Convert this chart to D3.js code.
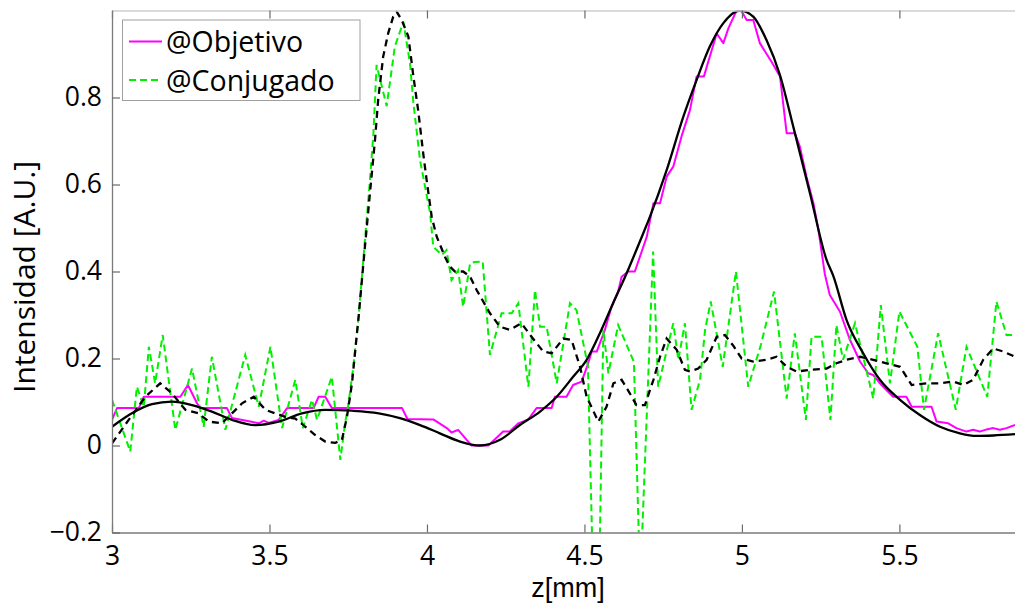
<!DOCTYPE html>
<html>
<head>
<meta charset="utf-8">
<script src="https://cdn.jsdelivr.net/npm/d3@7"></script>
<style>
  html, body { margin: 0; padding: 0; background: #ffffff; }
  svg { display: block; font-family: "Open Sans", "Noto Sans", sans-serif; }
</style>
</head>
<body>
<svg id="chart" width="1015" height="603"></svg>
<script>
// ---- Axis ticks ----
const zTicks = [3, 3.5, 4, 4.5, 5, 5.5];
const intensityTicks = [-0.2, 0, 0.2, 0.4, 0.6, 0.8];

// ---- @Objetivo: measured intensity (stepped) ----
const objetivoZ = [3.000, 3.016, 3.085, 3.101, 3.217, 3.241, 3.270, 3.280, 3.365, 3.381, 3.439, 3.466, 3.482, 3.497, 3.529, 3.556, 3.640, 3.656, 3.677, 3.698, 3.921, 3.938, 4.020, 4.063, 4.078, 4.099, 4.126, 4.142, 4.195, 4.242, 4.263, 4.290, 4.322, 4.348, 4.396, 4.406, 4.443, 4.464, 4.491, 4.512, 4.523, 4.539, 4.565, 4.586, 4.607, 4.618, 4.639, 4.660, 4.698, 4.719, 4.740, 4.761, 4.782, 4.808, 4.835, 4.856, 4.879, 4.898, 4.920, 4.941, 4.957, 4.983, 4.999, 5.015, 5.036, 5.057, 5.094, 5.121, 5.142, 5.168, 5.184, 5.205, 5.227, 5.243, 5.263, 5.279, 5.311, 5.343, 5.375, 5.401, 5.417, 5.443, 5.480, 5.522, 5.539, 5.602, 5.618, 5.655, 5.681, 5.713, 5.734, 5.755, 5.777, 5.798, 5.819, 5.840, 5.867];
const objetivoI = [0.059, 0.086, 0.086, 0.112, 0.112, 0.139, 0.097, 0.086, 0.086, 0.063, 0.055, 0.051, 0.057, 0.052, 0.059, 0.086, 0.086, 0.112, 0.112, 0.086, 0.086, 0.061, 0.060, 0.040, 0.030, 0.036, 0.013, 0.000, 0.000, 0.032, 0.032, 0.051, 0.060, 0.086, 0.086, 0.112, 0.112, 0.139, 0.147, 0.189, 0.216, 0.216, 0.266, 0.319, 0.354, 0.388, 0.400, 0.400, 0.480, 0.557, 0.557, 0.618, 0.641, 0.710, 0.771, 0.848, 0.848, 0.894, 0.947, 0.925, 0.959, 1.000, 0.998, 0.978, 0.978, 0.925, 0.882, 0.848, 0.718, 0.718, 0.687, 0.618, 0.557, 0.495, 0.395, 0.346, 0.308, 0.243, 0.193, 0.166, 0.162, 0.139, 0.112, 0.112, 0.089, 0.089, 0.055, 0.051, 0.040, 0.032, 0.036, 0.032, 0.037, 0.040, 0.036, 0.040, 0.047];

// ---- @Conjugado: measured intensity (noisy) ----
const conjugadoZ = [3.000, 3.058, 3.079, 3.101, 3.117, 3.137, 3.161, 3.201, 3.254, 3.291, 3.317, 3.360, 3.423, 3.466, 3.503, 3.540, 3.582, 3.606, 3.635, 3.651, 3.698, 3.725, 3.740, 3.751, 3.765, 3.783, 3.803, 3.819, 3.830, 3.840, 3.872, 3.898, 3.925, 3.946, 3.957, 3.978, 4.010, 4.020, 4.047, 4.062, 4.078, 4.099, 4.115, 4.137, 4.152, 4.177, 4.200, 4.237, 4.269, 4.290, 4.322, 4.343, 4.359, 4.380, 4.412, 4.454, 4.475, 4.511, 4.539, 4.560, 4.576, 4.607, 4.657, 4.677, 4.718, 4.734, 4.782, 4.798, 4.819, 4.840, 4.867, 4.883, 4.901, 4.939, 4.981, 5.020, 5.060, 5.102, 5.142, 5.168, 5.203, 5.221, 5.253, 5.281, 5.300, 5.321, 5.359, 5.417, 5.441, 5.470, 5.500, 5.557, 5.578, 5.623, 5.679, 5.713, 5.779, 5.808, 5.840, 5.867];
const conjugadoI = [0.105, -0.014, 0.135, 0.089, 0.227, 0.143, 0.254, 0.036, 0.177, 0.043, 0.204, 0.036, 0.208, 0.089, 0.227, 0.040, 0.151, 0.040, 0.105, 0.059, 0.158, -0.033, 0.051, 0.097, 0.174, 0.296, 0.472, 0.610, 0.718, 0.875, 0.780, 0.917, 0.974, 0.879, 0.787, 0.656, 0.534, 0.457, 0.438, 0.449, 0.380, 0.403, 0.319, 0.419, 0.422, 0.423, 0.208, 0.304, 0.304, 0.327, 0.135, 0.357, 0.273, 0.273, 0.143, 0.327, 0.311, 0.183, -0.650, 0.266, 0.166, 0.277, 0.192, -0.320, 0.446, 0.135, 0.281, 0.197, 0.281, 0.082, 0.151, 0.266, 0.331, 0.181, 0.400, 0.135, 0.231, 0.354, 0.108, 0.258, 0.059, 0.250, 0.250, 0.059, 0.277, 0.197, 0.281, 0.108, 0.323, 0.143, 0.308, 0.227, 0.082, 0.258, 0.082, 0.227, 0.112, 0.331, 0.254, 0.254];

// ---- Smooth fit of @Objetivo (black solid) ----
const ajusteObjZ = [3.000, 3.063, 3.127, 3.190, 3.254, 3.317, 3.381, 3.455, 3.529, 3.603, 3.677, 3.762, 3.847, 3.914, 3.978, 4.041, 4.105, 4.168, 4.232, 4.295, 4.359, 4.412, 4.464, 4.507, 4.549, 4.591, 4.634, 4.676, 4.708, 4.761, 4.814, 4.856, 4.898, 4.941, 4.994, 5.036, 5.078, 5.121, 5.163, 5.216, 5.269, 5.290, 5.332, 5.385, 5.438, 5.502, 5.565, 5.629, 5.692, 5.745, 5.798, 5.867];
const ajusteObjI = [0.043, 0.074, 0.095, 0.101, 0.093, 0.078, 0.059, 0.047, 0.055, 0.074, 0.082, 0.080, 0.074, 0.063, 0.047, 0.028, 0.009, 0.000, 0.013, 0.047, 0.078, 0.112, 0.158, 0.197, 0.258, 0.327, 0.396, 0.469, 0.526, 0.633, 0.756, 0.840, 0.917, 0.971, 1.000, 0.986, 0.932, 0.851, 0.733, 0.580, 0.426, 0.390, 0.289, 0.212, 0.151, 0.105, 0.070, 0.043, 0.028, 0.022, 0.023, 0.026];

// ---- Smoothed @Conjugado (black dashed) ----
const ajusteConjZ = [3.000, 3.053, 3.106, 3.153, 3.190, 3.233, 3.275, 3.307, 3.349, 3.381, 3.413, 3.450, 3.487, 3.518, 3.550, 3.582, 3.614, 3.645, 3.677, 3.709, 3.730, 3.746, 3.762, 3.783, 3.803, 3.819, 3.835, 3.845, 3.861, 3.877, 3.893, 3.904, 3.920, 3.941, 3.957, 3.972, 3.988, 3.999, 4.015, 4.031, 4.057, 4.073, 4.089, 4.115, 4.137, 4.158, 4.200, 4.232, 4.263, 4.300, 4.332, 4.369, 4.396, 4.433, 4.459, 4.486, 4.507, 4.544, 4.570, 4.592, 4.618, 4.644, 4.665, 4.692, 4.719, 4.740, 4.761, 4.793, 4.819, 4.835, 4.861, 4.888, 4.920, 4.946, 4.972, 4.999, 5.036, 5.078, 5.110, 5.142, 5.174, 5.216, 5.269, 5.300, 5.332, 5.375, 5.417, 5.459, 5.502, 5.539, 5.586, 5.629, 5.671, 5.703, 5.734, 5.766, 5.798, 5.830, 5.867];
const ajusteConjI = [0.005, 0.059, 0.112, 0.143, 0.120, 0.082, 0.074, 0.055, 0.051, 0.074, 0.097, 0.112, 0.082, 0.074, 0.066, 0.062, 0.043, 0.024, 0.009, 0.006, 0.013, 0.066, 0.143, 0.296, 0.457, 0.580, 0.702, 0.794, 0.894, 0.948, 0.986, 0.997, 0.978, 0.940, 0.848, 0.771, 0.672, 0.610, 0.526, 0.480, 0.434, 0.411, 0.400, 0.400, 0.388, 0.357, 0.304, 0.273, 0.266, 0.281, 0.250, 0.216, 0.212, 0.246, 0.243, 0.181, 0.112, 0.055, 0.089, 0.143, 0.151, 0.120, 0.093, 0.093, 0.151, 0.204, 0.246, 0.220, 0.174, 0.170, 0.177, 0.197, 0.250, 0.254, 0.230, 0.200, 0.193, 0.197, 0.204, 0.181, 0.170, 0.174, 0.177, 0.189, 0.197, 0.204, 0.197, 0.189, 0.181, 0.139, 0.143, 0.143, 0.147, 0.139, 0.151, 0.197, 0.223, 0.216, 0.204];

const legendLabels = ["@Objetivo", "@Conjugado"];

// ---- Layout ----
const svg = d3.select("#chart");
const plotLeft = 112, plotRight = 1015, plotTop = 10.5, plotBottom = 532.5;

const x = d3.scaleLinear().domain([3, 5.867]).range([plotLeft, plotRight]);
const y = d3.scaleLinear().domain([-0.2, 1.0]).range([plotBottom, plotTop]);

svg.append("rect").attr("width", 1015).attr("height", 603).attr("fill", "#ffffff");

svg.append("defs").append("clipPath").attr("id", "plotArea")
  .append("rect")
  .attr("x", plotLeft).attr("y", plotTop)
  .attr("width", plotRight - plotLeft).attr("height", plotBottom - plotTop);

const zip = (zs, is) => zs.map((z, k) => [z, is[k]]);

const straight = d3.line().x(d => x(d[0])).y(d => y(d[1]));
const smooth = d3.line().x(d => x(d[0])).y(d => y(d[1])).curve(d3.curveMonotoneX);

const plot = svg.append("g").attr("clip-path", "url(#plotArea)");

plot.append("path")
  .datum(zip(objetivoZ, objetivoI))
  .attr("d", straight)
  .attr("fill", "none").attr("stroke", "#ff00ff").attr("stroke-width", 2)
  .attr("stroke-linejoin", "round");

plot.append("path")
  .datum(zip(conjugadoZ, conjugadoI))
  .attr("d", straight)
  .attr("fill", "none").attr("stroke", "#00f000").attr("stroke-width", 2)
  .attr("stroke-dasharray", "7,4");

plot.append("path")
  .datum(zip(ajusteObjZ, ajusteObjI))
  .attr("d", smooth)
  .attr("fill", "none").attr("stroke", "#000000").attr("stroke-width", 2.3);

plot.append("path")
  .datum(zip(ajusteConjZ, ajusteConjI))
  .attr("d", straight)
  .attr("fill", "none").attr("stroke", "#000000").attr("stroke-width", 2.3)
  .attr("stroke-dasharray", "7,5");

// ---- Axes ----
const fmtZ = d => String(d);
const fmtI = d => (d < 0 ? "\u2212" + Math.abs(d).toFixed(1) : (d === 0 ? "0" : d.toFixed(1)));

const xAxis = svg.append("g")
  .attr("transform", `translate(0,${plotBottom})`)
  .call(d3.axisBottom(x).tickValues(zTicks).tickFormat(fmtZ)
        .tickSizeInner(-8).tickSizeOuter(0).tickPadding(13.5));

const topAxis = svg.append("g")
  .attr("transform", `translate(0,${plotTop})`)
  .call(d3.axisTop(x).tickValues(zTicks).tickFormat("")
        .tickSizeInner(-8).tickSizeOuter(0));

const yAxis = svg.append("g")
  .attr("transform", `translate(${plotLeft},0)`)
  .call(d3.axisLeft(y).tickValues(intensityTicks).tickFormat(fmtI)
        .tickSizeInner(-8).tickSizeOuter(0).tickPadding(10));

[xAxis, yAxis].forEach(g => {
  g.select(".domain").attr("stroke", "#7a7a7a").attr("stroke-width", 1.3);
  g.selectAll(".tick line").attr("stroke", "#6a6a6a").attr("stroke-width", 1.2);
  g.selectAll(".tick text")
    .attr("fill", "#000").attr("font-size", 26.5)
    .attr("font-family", "'Open Sans', 'Noto Sans', sans-serif");
});
topAxis.select(".domain").attr("stroke", "#cfcfcf").attr("stroke-width", 1.3);
topAxis.selectAll(".tick line").attr("stroke", "#6a6a6a").attr("stroke-width", 1.2);

// ---- Axis titles ----
svg.append("text")
  .attr("x", 568).attr("y", 597)
  .attr("text-anchor", "middle")
  .attr("font-family", "'Liberation Sans', Arial, sans-serif")
  .attr("font-size", 27).attr("fill", "#000")
  .text("z[mm]");

svg.append("text")
  .attr("transform", "translate(35,277) rotate(-90)")
  .attr("text-anchor", "middle")
  .attr("font-size", 30).attr("fill", "#000")
  .text("Intensidad [A.U.]");

// ---- Legend ----
const legend = svg.append("g");
legend.append("rect")
  .attr("x", 122.5).attr("y", 20).attr("width", 237.5).attr("height", 80.5)
  .attr("fill", "#ffffff").attr("stroke", "#a0a0a0").attr("stroke-width", 1);

const legendStyles = [
  { color: "#ff00ff", dash: null },
  { color: "#00f000", dash: "7,4" }
];
const legendRows = [41.5, 80];
legendLabels.forEach((label, k) => {
  legend.append("line")
    .attr("x1", 129).attr("x2", 162)
    .attr("y1", legendRows[k]).attr("y2", legendRows[k])
    .attr("stroke", legendStyles[k].color).attr("stroke-width", 2)
    .attr("stroke-dasharray", legendStyles[k].dash);
  legend.append("text")
    .attr("x", 166).attr("y", legendRows[k] + 10.5)
    .attr("font-size", 28.5).attr("fill", "#000")
    .text(label);
});
</script>
</body>
</html>
